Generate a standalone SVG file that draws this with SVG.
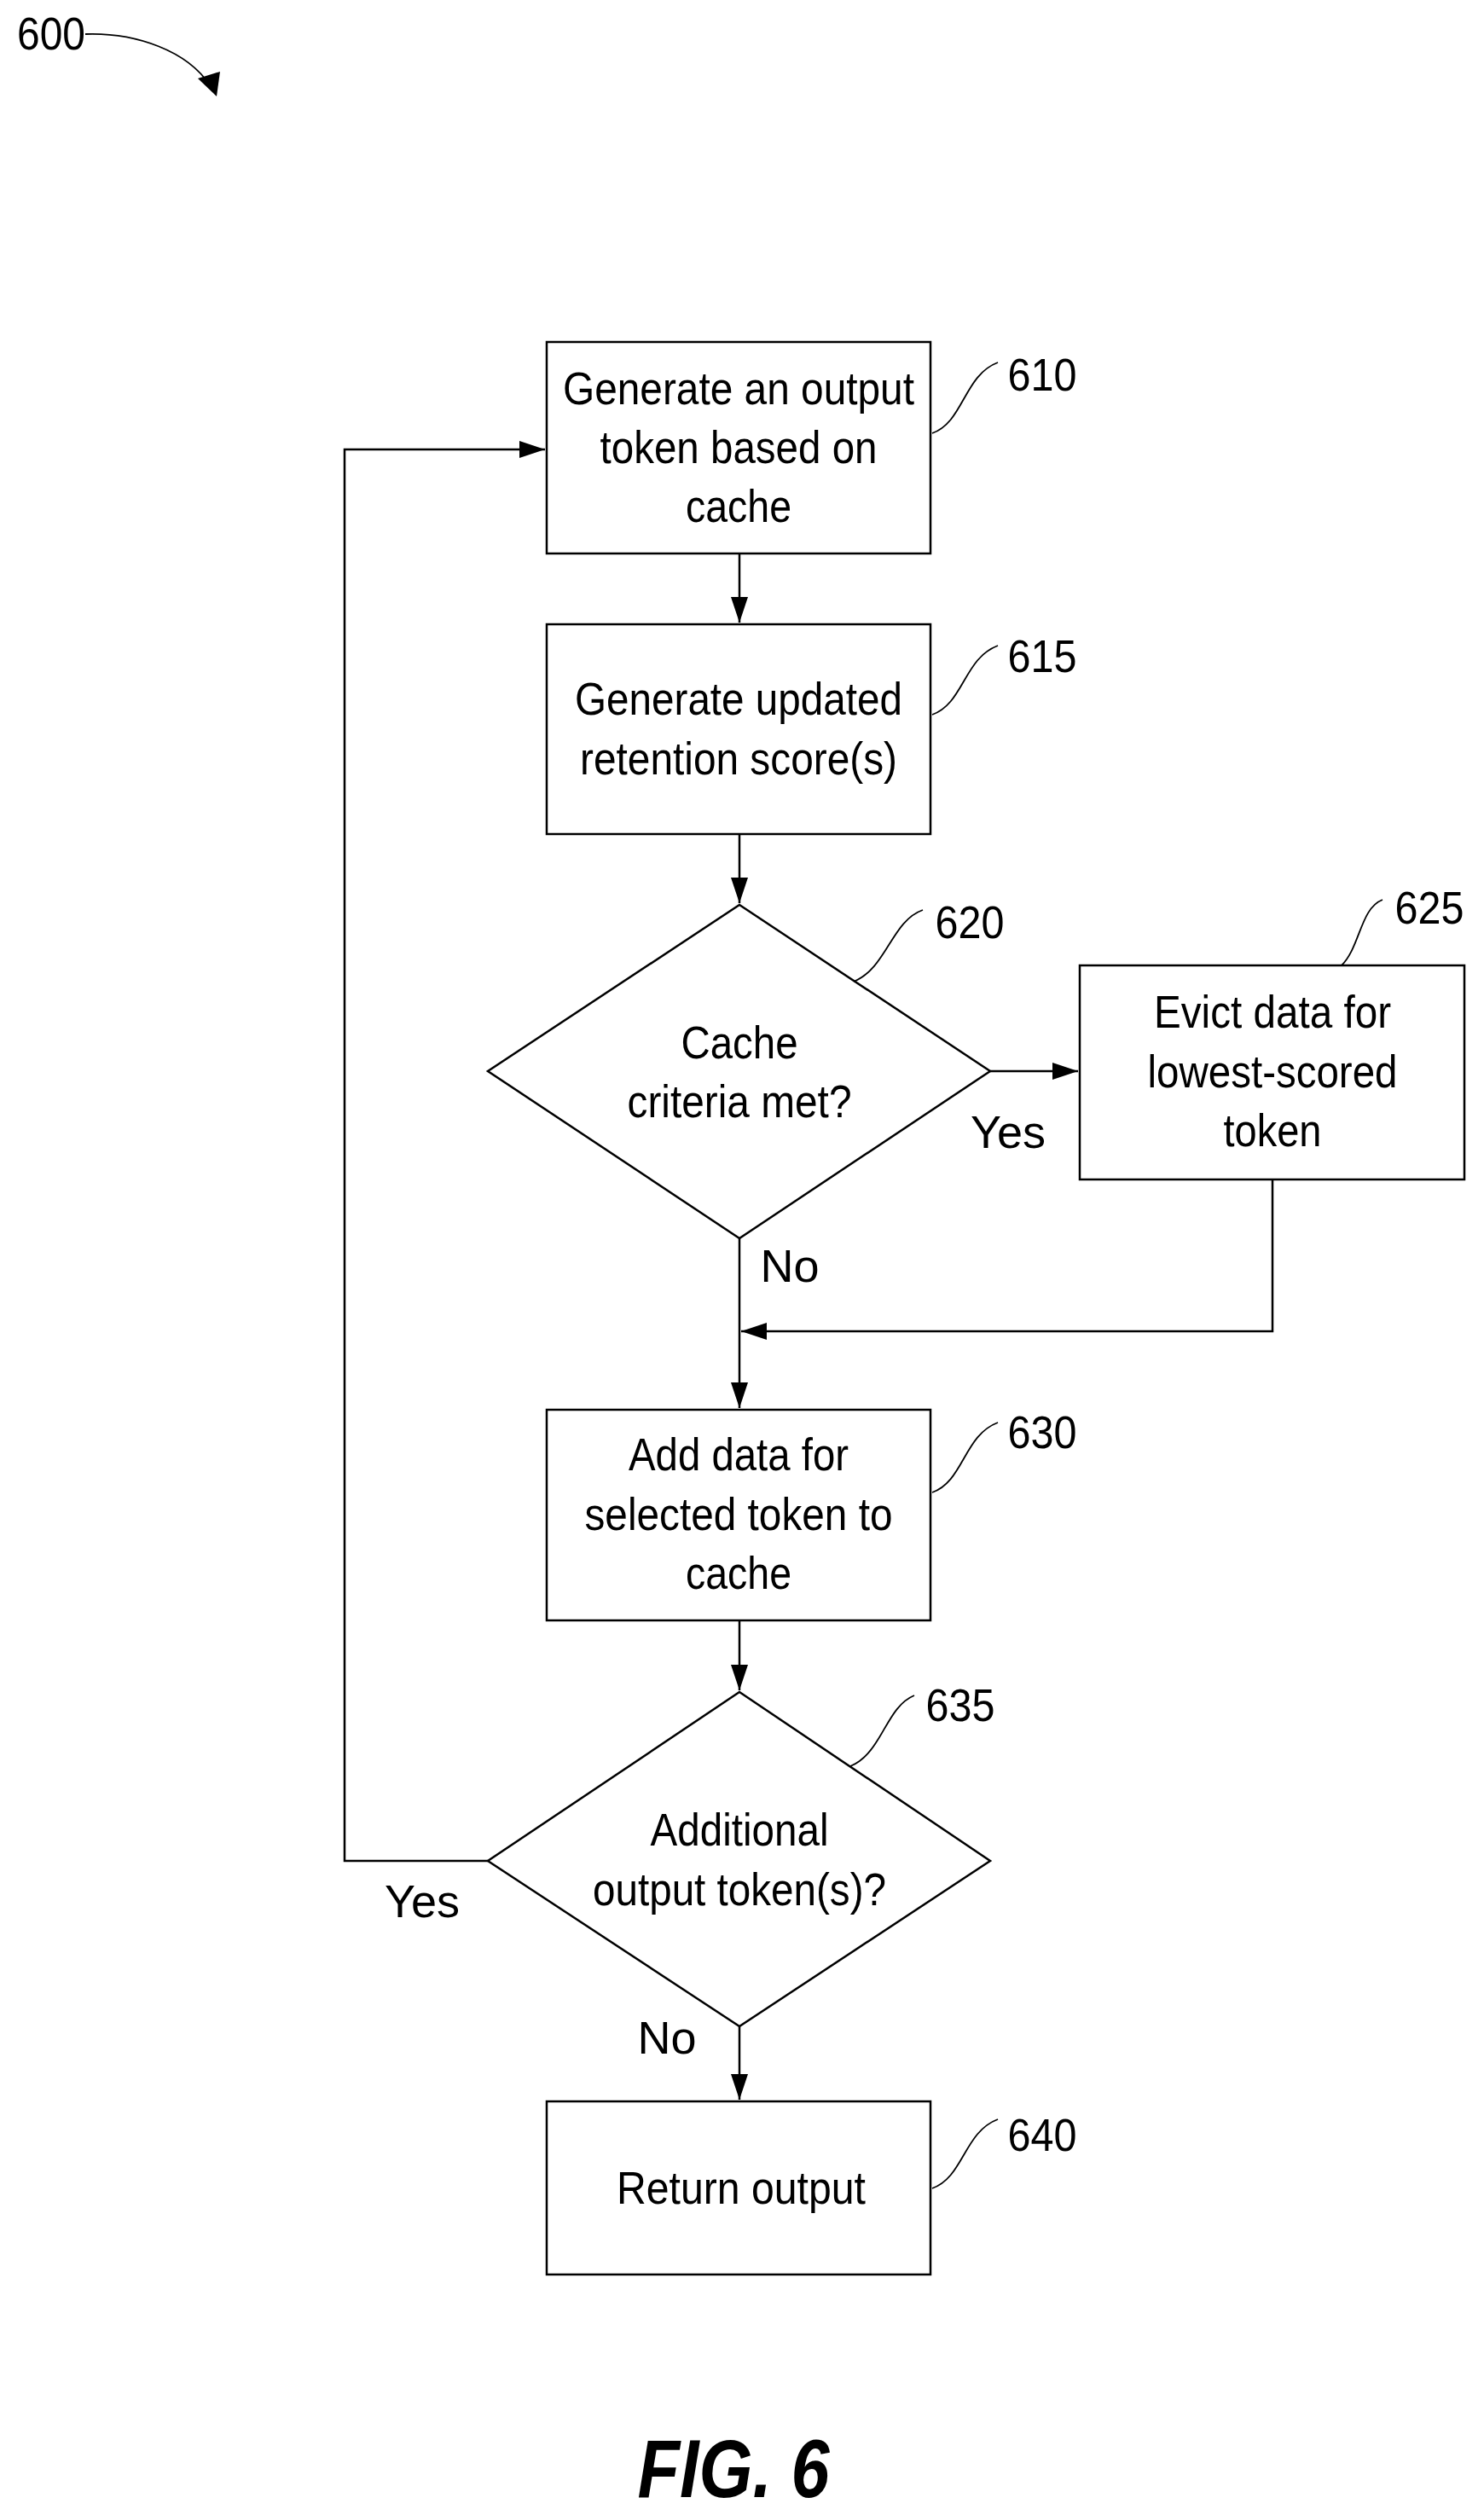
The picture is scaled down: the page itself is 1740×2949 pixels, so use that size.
<svg xmlns="http://www.w3.org/2000/svg" width="1740" height="2949" viewBox="0 0 1740 2949">
<style>
.n{fill:#fff;stroke:#000;stroke-width:2.5}
.t{font-family:"Liberation Sans",Arial,sans-serif;font-size:54px;text-anchor:middle;fill:#000}
.c{fill:none;stroke:#000;stroke-width:2.5}
.l{fill:none;stroke:#000;stroke-width:1.8}
</style>
<defs>
<marker id="b" viewBox="0 0 30 20" refX="30" refY="10" markerWidth="30" markerHeight="20" markerUnits="userSpaceOnUse" orient="auto"><path d="M0,0 L30,10 L0,20 z" fill="#000"/></marker></defs>
<g id="connectors">
<path class="c" d="M867,649 V730" marker-end="url(#b)"/>
<path class="c" d="M867,978 V1059" marker-end="url(#b)"/>
<path class="c" d="M1161,1256 H1264" marker-end="url(#b)"/>
<path class="c" d="M867,1452 V1651" marker-end="url(#b)"/>
<path class="c" d="M1492,1383 V1561 H869" marker-end="url(#b)"/>
<path class="c" d="M867,1900 V1982" marker-end="url(#b)"/>
<path class="c" d="M572,2182 H404 V527 H639" marker-end="url(#b)"/>
<path class="c" d="M867,2376 V2462" marker-end="url(#b)"/>
<text class="t" x="1182" y="1346">Yes</text>
<text class="t" x="926" y="1503">No</text>
<text class="t" x="495" y="2248">Yes</text>
<text class="t" x="782" y="2408">No</text>
</g>
<g id="n600">
<text class="t" x="60" y="58" textLength="80" lengthAdjust="spacingAndGlyphs">600</text>
<path class="l" d="M100,40 C160,38 220,60 246,100"/>
<path d="M232,92 L254,113 L258,84 z" fill="#000"/>
</g>
<g id="n610">
<rect class="n" x="641" y="401" width="450" height="248"/>
<text class="t" x="866" y="474" textLength="412" lengthAdjust="spacingAndGlyphs">Generate an output</text>
<text class="t" x="866" y="543" textLength="325" lengthAdjust="spacingAndGlyphs">token based on</text>
<text class="t" x="866" y="612" textLength="124" lengthAdjust="spacingAndGlyphs">cache</text>
<path class="l" d="M1093,508 C1130,495 1130,440 1170,425"/>
<text class="t" x="1222" y="458" textLength="81" lengthAdjust="spacingAndGlyphs">610</text>
</g>
<g id="n615">
<rect class="n" x="641" y="732" width="450" height="246"/>
<text class="t" x="866" y="838" textLength="384" lengthAdjust="spacingAndGlyphs">Generate updated</text>
<text class="t" x="866" y="908" textLength="372" lengthAdjust="spacingAndGlyphs">retention score(s)</text>
<path class="l" d="M1093,838 C1130,825 1130,772 1170,757"/>
<text class="t" x="1222" y="788" textLength="81" lengthAdjust="spacingAndGlyphs">615</text>
</g>
<g id="n620">
<polygon class="n" points="867,1061 1161,1256 867,1452 572,1256"/>
<text class="t" x="867" y="1241" textLength="137" lengthAdjust="spacingAndGlyphs">Cache</text>
<text class="t" x="867" y="1310" textLength="263" lengthAdjust="spacingAndGlyphs">criteria met?</text>
<path class="l" d="M1001,1151 C1040,1135 1045,1080 1082,1067"/>
<text class="t" x="1137" y="1100" textLength="81" lengthAdjust="spacingAndGlyphs">620</text>
</g>
<g id="n625">
<rect class="n" x="1266" y="1132" width="451" height="251"/>
<text class="t" x="1492" y="1205" textLength="278" lengthAdjust="spacingAndGlyphs">Evict data for</text>
<text class="t" x="1492" y="1275" textLength="293" lengthAdjust="spacingAndGlyphs">lowest-scored</text>
<text class="t" x="1492" y="1344" textLength="115" lengthAdjust="spacingAndGlyphs">token</text>
<path class="l" d="M1573,1132 C1595,1110 1595,1065 1621,1055"/>
<text class="t" x="1676" y="1083" textLength="81" lengthAdjust="spacingAndGlyphs">625</text>
</g>
<g id="n630">
<rect class="n" x="641" y="1653" width="450" height="247"/>
<text class="t" x="866" y="1724" textLength="258" lengthAdjust="spacingAndGlyphs">Add data for</text>
<text class="t" x="866" y="1794" textLength="361" lengthAdjust="spacingAndGlyphs">selected token to</text>
<text class="t" x="866" y="1863" textLength="124" lengthAdjust="spacingAndGlyphs">cache</text>
<path class="l" d="M1093,1750 C1130,1737 1130,1683 1170,1668"/>
<text class="t" x="1222" y="1698" textLength="81" lengthAdjust="spacingAndGlyphs">630</text>
</g>
<g id="n635">
<polygon class="n" points="867,1984 1161,2182 867,2376 572,2182"/>
<text class="t" x="867" y="2164" textLength="209" lengthAdjust="spacingAndGlyphs">Additional</text>
<text class="t" x="867" y="2234" textLength="344" lengthAdjust="spacingAndGlyphs">output token(s)?</text>
<path class="l" d="M997,2071 C1035,2055 1038,2002 1072,1988"/>
<text class="t" x="1126" y="2018" textLength="81" lengthAdjust="spacingAndGlyphs">635</text>
</g>
<g id="n640">
<rect class="n" x="641" y="2464" width="450" height="203"/>
<text class="t" x="869" y="2584" textLength="292" lengthAdjust="spacingAndGlyphs">Return output</text>
<path class="l" d="M1093,2566 C1130,2553 1130,2500 1170,2485"/>
<text class="t" x="1222" y="2522" textLength="81" lengthAdjust="spacingAndGlyphs">640</text>
</g>
<text x="860" y="2928" style="font-family:'Liberation Sans',Arial,sans-serif;font-size:96px;font-weight:bold;font-style:italic;text-anchor:middle" textLength="225" lengthAdjust="spacingAndGlyphs">FIG. 6</text>
</svg>
